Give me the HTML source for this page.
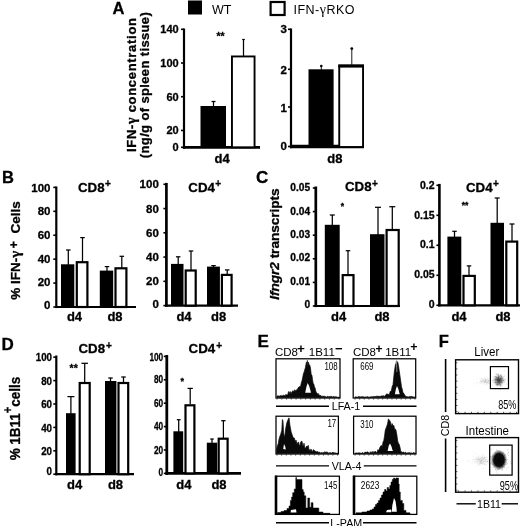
<!DOCTYPE html>
<html><head><meta charset="utf-8"><title>Figure</title>
<style>
html,body{margin:0;padding:0;background:#fff;}
svg{display:block;font-family:"Liberation Sans", sans-serif;fill:#000;}
text[font-weight=bold]{stroke:#000;stroke-width:0.3px;}
text[font-weight=bold] tspan[font-weight=normal]{stroke:none;}
</style></head>
<body>
<svg width="520" height="526" viewBox="0 0 520 526">
<defs><filter id="soft" x="0" y="0" width="520" height="526" filterUnits="userSpaceOnUse" color-interpolation-filters="sRGB"><feGaussianBlur stdDeviation="0.42"/></filter></defs>
<g filter="url(#soft)">
<rect x="-5" y="-5" width="530" height="536" fill="#fff"/>
<text x="112.5" y="14" font-size="16.5" font-weight="bold" text-anchor="start" >A</text>
<rect x="188" y="0.5" width="14" height="14" fill="#000" stroke="none" stroke-width="0"/>
<text x="212" y="14" font-size="12.5" font-weight="normal" text-anchor="start" >WT</text>
<rect x="270.6" y="2" width="14" height="13" fill="#fff" stroke="#000" stroke-width="2.2"/>
<text x="293.5" y="14" font-size="12.5" font-weight="normal" textLength="61" lengthAdjust="spacing">IFN-<tspan font-family='"Liberation Serif", serif' font-size="14">γ</tspan>RKO</text>
<text transform="translate(136,85) rotate(-90)" font-size="13" font-weight="bold" text-anchor="middle" textLength="134" lengthAdjust="spacing">IFN-<tspan font-family='"Liberation Serif", serif' font-weight="bold" font-size="14">γ</tspan> concentration</text>
<text transform="translate(149.3,85.2) rotate(-90)" font-size="13" font-weight="bold" text-anchor="middle" textLength="146" lengthAdjust="spacing">(ng/g of spleen tissue)</text>
<line x1="184" y1="28.5" x2="184" y2="148.65" stroke="#000" stroke-width="2.2"/>
<line x1="182.9" y1="147.3" x2="260" y2="147.3" stroke="#000" stroke-width="2.7"/>
<line x1="181" y1="29.30000000000001" x2="184" y2="29.30000000000001" stroke="#000" stroke-width="1.6"/>
<text x="178.7" y="33.26000000000001" font-size="11" font-weight="bold" text-anchor="end" >140</text>
<line x1="181" y1="63.01428571428572" x2="184" y2="63.01428571428572" stroke="#000" stroke-width="1.6"/>
<text x="178.7" y="66.97428571428571" font-size="11" font-weight="bold" text-anchor="end" >100</text>
<line x1="181" y1="96.72857142857144" x2="184" y2="96.72857142857144" stroke="#000" stroke-width="1.6"/>
<text x="178.7" y="100.68857142857144" font-size="11" font-weight="bold" text-anchor="end" >60</text>
<line x1="181" y1="130.44285714285715" x2="184" y2="130.44285714285715" stroke="#000" stroke-width="1.6"/>
<text x="178.7" y="134.40285714285716" font-size="11" font-weight="bold" text-anchor="end" >20</text>
<line x1="181" y1="147.3" x2="184" y2="147.3" stroke="#000" stroke-width="1.6"/>
<text x="178.7" y="151.26000000000002" font-size="11" font-weight="bold" text-anchor="end" >0</text>
<rect x="200.5" y="106" width="25.5" height="41.30000000000001" fill="#000" stroke="none" stroke-width="0"/>
<line x1="213.5" y1="101.5" x2="213.5" y2="106" stroke="#000" stroke-width="1.25"/>
<line x1="211.5" y1="101.5" x2="215.5" y2="101.5" stroke="#000" stroke-width="1.25"/>
<rect x="231.95" y="56.45" width="22.6" height="90.85000000000001" fill="#fff" stroke="#000" stroke-width="1.9"/>
<line x1="243.5" y1="39.5" x2="243.5" y2="56" stroke="#000" stroke-width="1.25"/>
<line x1="242.2" y1="39.5" x2="244.8" y2="39.5" stroke="#000" stroke-width="1.25"/>
<text x="220.6" y="40" font-size="10.5" font-weight="bold" text-anchor="middle" >**</text>
<text x="222.2" y="163" font-size="13" font-weight="bold" text-anchor="middle" >d4</text>
<line x1="291" y1="28.5" x2="291" y2="148.15" stroke="#000" stroke-width="2.2"/>
<line x1="289.9" y1="146.5" x2="364" y2="146.5" stroke="#000" stroke-width="3.3"/>
<line x1="288" y1="29.3" x2="291" y2="29.3" stroke="#000" stroke-width="1.6"/>
<text x="286.8" y="33.44" font-size="11.5" font-weight="bold" text-anchor="end" >3</text>
<line x1="288" y1="69.3" x2="291" y2="69.3" stroke="#000" stroke-width="1.6"/>
<text x="286.8" y="73.74" font-size="11.5" font-weight="bold" text-anchor="end" >2</text>
<line x1="288" y1="107" x2="291" y2="107" stroke="#000" stroke-width="1.6"/>
<text x="286.8" y="111.94" font-size="11.5" font-weight="bold" text-anchor="end" >1</text>
<line x1="288" y1="146.5" x2="291" y2="146.5" stroke="#000" stroke-width="1.6"/>
<text x="286.8" y="150.04" font-size="11.5" font-weight="bold" text-anchor="end" >0</text>
<rect x="308.5" y="69.3" width="25.100000000000023" height="77.7" fill="#000" stroke="none" stroke-width="0"/>
<line x1="321.3" y1="66" x2="321.3" y2="70" stroke="#000" stroke-width="0.9"/>
<circle cx="321.3" cy="66" r="1.3" fill="#000"/>
<rect x="339.25" y="65.75" width="23.79999999999999" height="81.25" fill="#fff" stroke="#000" stroke-width="1.9"/>
<line x1="338.3" y1="66" x2="364" y2="66" stroke="#000" stroke-width="3.2"/>
<line x1="351.8" y1="48.5" x2="351.8" y2="65" stroke="#000" stroke-width="0.9"/>
<circle cx="351.8" cy="48.6" r="1.4" fill="#000"/>
<text x="334.8" y="163" font-size="13" font-weight="bold" text-anchor="middle" >d8</text>
<text x="2" y="182.5" font-size="16.5" font-weight="bold" text-anchor="start" >B</text>
<text transform="translate(20,299.8) rotate(-90)" font-size="13.5" font-weight="bold" text-anchor="start">% IFN-<tspan font-family='"Liberation Serif", serif' font-size="15">γ</tspan></text>
<text transform="translate(17.6,244.8) rotate(-90)" font-size="12" font-weight="bold" text-anchor="middle">+</text>
<text transform="translate(20,201.2) rotate(-90)" font-size="13.5" font-weight="bold" text-anchor="end">Cells</text>
<line x1="56.3" y1="186.5" x2="56.3" y2="308.1" stroke="#000" stroke-width="2.2"/>
<line x1="55.199999999999996" y1="307" x2="136" y2="307" stroke="#000" stroke-width="2.2"/>
<line x1="53.3" y1="187.4" x2="56.3" y2="187.4" stroke="#000" stroke-width="1.6"/>
<text x="50.5" y="191.54" font-size="11.5" font-weight="bold" text-anchor="end" >100</text>
<line x1="53.3" y1="211.32" x2="56.3" y2="211.32" stroke="#000" stroke-width="1.6"/>
<text x="50.5" y="215.45999999999998" font-size="11.5" font-weight="bold" text-anchor="end" >80</text>
<line x1="53.3" y1="235.24" x2="56.3" y2="235.24" stroke="#000" stroke-width="1.6"/>
<text x="50.5" y="239.38" font-size="11.5" font-weight="bold" text-anchor="end" >60</text>
<line x1="53.3" y1="259.16" x2="56.3" y2="259.16" stroke="#000" stroke-width="1.6"/>
<text x="50.5" y="263.3" font-size="11.5" font-weight="bold" text-anchor="end" >40</text>
<line x1="53.3" y1="283.08" x2="56.3" y2="283.08" stroke="#000" stroke-width="1.6"/>
<text x="50.5" y="286.41999999999996" font-size="11.5" font-weight="bold" text-anchor="end" >20</text>
<line x1="53.3" y1="307" x2="56.3" y2="307" stroke="#000" stroke-width="1.6"/>
<text x="50.5" y="308.64" font-size="11.5" font-weight="bold" text-anchor="end" >0</text>
<rect x="61" y="264.3" width="13.299999999999997" height="42.69999999999999" fill="#000" stroke="none" stroke-width="0"/>
<line x1="68.3" y1="250" x2="68.3" y2="265" stroke="#000" stroke-width="1.25"/>
<line x1="66.05" y1="250" x2="70.55" y2="250" stroke="#000" stroke-width="1.25"/>
<rect x="76.8" y="262.20000000000005" width="10.599999999999998" height="44.799999999999976" fill="#fff" stroke="#000" stroke-width="2.2"/>
<line x1="82.5" y1="237.6" x2="82.5" y2="262" stroke="#000" stroke-width="1.25"/>
<line x1="80.25" y1="237.6" x2="84.75" y2="237.6" stroke="#000" stroke-width="1.25"/>
<rect x="99.8" y="270.6" width="13.400000000000006" height="36.39999999999998" fill="#000" stroke="none" stroke-width="0"/>
<line x1="107" y1="266.6" x2="107" y2="271" stroke="#000" stroke-width="1.25"/>
<line x1="104.75" y1="266.6" x2="109.25" y2="266.6" stroke="#000" stroke-width="1.25"/>
<rect x="115.5" y="268.3" width="10.899999999999995" height="38.70000000000001" fill="#fff" stroke="#000" stroke-width="2.2"/>
<line x1="121.8" y1="256.3" x2="121.8" y2="268" stroke="#000" stroke-width="1.25"/>
<line x1="119.55" y1="256.3" x2="124.05" y2="256.3" stroke="#000" stroke-width="1.25"/>
<text x="78.0" y="191.8" font-size="13.3" font-weight="bold" text-anchor="start">CD8<tspan font-size="10" dy="-4.6" dx="0.3">+</tspan></text>
<text x="74.5" y="321.2" font-size="13" font-weight="bold" text-anchor="middle" >d4</text>
<text x="115" y="321.2" font-size="13" font-weight="bold" text-anchor="middle" >d8</text>
<line x1="166.4" y1="182.9" x2="166.4" y2="306.70000000000005" stroke="#000" stroke-width="2.7"/>
<line x1="165.05" y1="305.6" x2="238" y2="305.6" stroke="#000" stroke-width="2.2"/>
<line x1="163.4" y1="184.3" x2="166.4" y2="184.3" stroke="#000" stroke-width="1.6"/>
<text x="158.8" y="187.94" font-size="11.5" font-weight="bold" text-anchor="end" >100</text>
<line x1="163.4" y1="208.56" x2="166.4" y2="208.56" stroke="#000" stroke-width="1.6"/>
<text x="158.8" y="212.7" font-size="11.5" font-weight="bold" text-anchor="end" >80</text>
<line x1="163.4" y1="232.82000000000002" x2="166.4" y2="232.82000000000002" stroke="#000" stroke-width="1.6"/>
<text x="158.8" y="236.96" font-size="11.5" font-weight="bold" text-anchor="end" >60</text>
<line x1="163.4" y1="257.08000000000004" x2="166.4" y2="257.08000000000004" stroke="#000" stroke-width="1.6"/>
<text x="158.8" y="261.22" font-size="11.5" font-weight="bold" text-anchor="end" >40</text>
<line x1="163.4" y1="281.34000000000003" x2="166.4" y2="281.34000000000003" stroke="#000" stroke-width="1.6"/>
<text x="158.8" y="285.48" font-size="11.5" font-weight="bold" text-anchor="end" >20</text>
<line x1="163.4" y1="305.6" x2="166.4" y2="305.6" stroke="#000" stroke-width="1.6"/>
<text x="158.8" y="308.24" font-size="11.5" font-weight="bold" text-anchor="end" >0</text>
<rect x="171" y="263.9" width="12.5" height="41.700000000000045" fill="#000" stroke="none" stroke-width="0"/>
<line x1="178.2" y1="256.8" x2="178.2" y2="265" stroke="#000" stroke-width="1.25"/>
<line x1="175.95" y1="256.8" x2="180.45" y2="256.8" stroke="#000" stroke-width="1.25"/>
<rect x="185.7" y="270.5" width="10.000000000000018" height="35.100000000000044" fill="#fff" stroke="#000" stroke-width="2.2"/>
<line x1="191" y1="251" x2="191" y2="270" stroke="#000" stroke-width="1.25"/>
<line x1="188.75" y1="251" x2="193.25" y2="251" stroke="#000" stroke-width="1.25"/>
<rect x="207" y="266.6" width="12.900000000000006" height="39.0" fill="#000" stroke="none" stroke-width="0"/>
<line x1="213.5" y1="265.6" x2="213.5" y2="267" stroke="#000" stroke-width="1.25"/>
<line x1="211.25" y1="265.6" x2="215.75" y2="265.6" stroke="#000" stroke-width="1.25"/>
<rect x="221.9" y="274.90000000000003" width="9.699999999999978" height="30.70000000000001" fill="#fff" stroke="#000" stroke-width="2.2"/>
<line x1="227.2" y1="269.9" x2="227.2" y2="274.5" stroke="#000" stroke-width="1.25"/>
<line x1="224.95" y1="269.9" x2="229.45" y2="269.9" stroke="#000" stroke-width="1.25"/>
<text x="188.3" y="191.5" font-size="13.3" font-weight="bold" text-anchor="start">CD4<tspan font-size="10" dy="-4.6" dx="0.3">+</tspan></text>
<text x="184" y="321.2" font-size="13" font-weight="bold" text-anchor="middle" >d4</text>
<text x="218.6" y="321.2" font-size="13" font-weight="bold" text-anchor="middle" >d8</text>
<text x="256" y="183" font-size="17" font-weight="bold" text-anchor="start" >C</text>
<text transform="translate(279.3,244) rotate(-90)" font-size="13.7" font-weight="bold" text-anchor="middle" textLength="111.5" lengthAdjust="spacing"><tspan font-style="italic">Ifngr2</tspan> transcripts</text>
<line x1="315.8" y1="186.5" x2="315.8" y2="307.1" stroke="#000" stroke-width="2.7"/>
<line x1="314.45" y1="306" x2="400" y2="306" stroke="#000" stroke-width="2.2"/>
<line x1="312.8" y1="188.0" x2="315.8" y2="188.0" stroke="#000" stroke-width="1.6"/>
<text x="310.1" y="191.272" font-size="10.2" font-weight="bold" text-anchor="end" >0.05</text>
<line x1="312.8" y1="211.6" x2="315.8" y2="211.6" stroke="#000" stroke-width="1.6"/>
<text x="310.1" y="214.672" font-size="10.2" font-weight="bold" text-anchor="end" >0.04</text>
<line x1="312.8" y1="235.2" x2="315.8" y2="235.2" stroke="#000" stroke-width="1.6"/>
<text x="310.1" y="237.87199999999999" font-size="10.2" font-weight="bold" text-anchor="end" >0.03</text>
<line x1="312.8" y1="258.8" x2="315.8" y2="258.8" stroke="#000" stroke-width="1.6"/>
<text x="310.1" y="261.172" font-size="10.2" font-weight="bold" text-anchor="end" >0.02</text>
<line x1="312.8" y1="282.4" x2="315.8" y2="282.4" stroke="#000" stroke-width="1.6"/>
<text x="310.1" y="285.372" font-size="10.2" font-weight="bold" text-anchor="end" >0.01</text>
<line x1="312.8" y1="306" x2="315.8" y2="306" stroke="#000" stroke-width="1.6"/>
<text x="310.1" y="307.872" font-size="10.2" font-weight="bold" text-anchor="end" >0</text>
<rect x="324.8" y="224.8" width="14.899999999999977" height="81.19999999999999" fill="#000" stroke="none" stroke-width="0"/>
<line x1="332.3" y1="215" x2="332.3" y2="225" stroke="#000" stroke-width="1.25"/>
<line x1="329.8" y1="215" x2="334.8" y2="215" stroke="#000" stroke-width="1.25"/>
<rect x="342.70000000000005" y="275.1" width="10.8" height="30.9" fill="#fff" stroke="#000" stroke-width="2.2"/>
<line x1="348" y1="250.7" x2="348" y2="274" stroke="#000" stroke-width="1.25"/>
<line x1="345.75" y1="250.7" x2="350.25" y2="250.7" stroke="#000" stroke-width="1.25"/>
<rect x="370" y="234.2" width="14.5" height="71.80000000000001" fill="#000" stroke="none" stroke-width="0"/>
<line x1="378" y1="207.3" x2="378" y2="235" stroke="#000" stroke-width="1.25"/>
<line x1="375.0" y1="207.3" x2="381.0" y2="207.3" stroke="#000" stroke-width="1.25"/>
<rect x="386.6" y="230.0" width="12.100000000000012" height="76.0" fill="#fff" stroke="#000" stroke-width="2.2"/>
<line x1="392.3" y1="206.7" x2="392.3" y2="229" stroke="#000" stroke-width="1.25"/>
<line x1="389.3" y1="206.7" x2="395.3" y2="206.7" stroke="#000" stroke-width="1.25"/>
<text x="342.5" y="208.6" font-size="8.5" font-weight="bold" text-anchor="middle" >*</text>
<text x="345.0" y="191.3" font-size="13.3" font-weight="bold" text-anchor="start">CD8<tspan font-size="10" dy="-4.6" dx="0.3">+</tspan></text>
<text x="338.6" y="321.4" font-size="13" font-weight="bold" text-anchor="middle" >d4</text>
<text x="382" y="321.4" font-size="13" font-weight="bold" text-anchor="middle" >d8</text>
<line x1="439.4" y1="183.9" x2="439.4" y2="306.40000000000003" stroke="#000" stroke-width="2.6"/>
<line x1="438.09999999999997" y1="305.3" x2="520" y2="305.3" stroke="#000" stroke-width="2.2"/>
<line x1="436.4" y1="185.3" x2="439.4" y2="185.3" stroke="#000" stroke-width="1.6"/>
<text x="434.59999999999997" y="188.78" font-size="10.5" font-weight="bold" text-anchor="end" >0.2</text>
<line x1="436.4" y1="215.3" x2="439.4" y2="215.3" stroke="#000" stroke-width="1.6"/>
<text x="434.59999999999997" y="218.58" font-size="10.5" font-weight="bold" text-anchor="end" >0.15</text>
<line x1="436.4" y1="245.3" x2="439.4" y2="245.3" stroke="#000" stroke-width="1.6"/>
<text x="434.59999999999997" y="247.88000000000002" font-size="10.5" font-weight="bold" text-anchor="end" >0.1</text>
<line x1="436.4" y1="275.3" x2="439.4" y2="275.3" stroke="#000" stroke-width="1.6"/>
<text x="434.59999999999997" y="278.08" font-size="10.5" font-weight="bold" text-anchor="end" >0.05</text>
<line x1="436.4" y1="305.3" x2="439.4" y2="305.3" stroke="#000" stroke-width="1.6"/>
<text x="434.59999999999997" y="308.28" font-size="10.5" font-weight="bold" text-anchor="end" >0</text>
<rect x="447.4" y="236.6" width="13.900000000000034" height="68.70000000000002" fill="#000" stroke="none" stroke-width="0"/>
<line x1="454.5" y1="231.3" x2="454.5" y2="237" stroke="#000" stroke-width="1.25"/>
<line x1="452.25" y1="231.3" x2="456.75" y2="231.3" stroke="#000" stroke-width="1.25"/>
<rect x="463.5" y="275.90000000000003" width="11.3" height="29.4" fill="#fff" stroke="#000" stroke-width="2.2"/>
<line x1="469" y1="265.9" x2="469" y2="276" stroke="#000" stroke-width="1.25"/>
<line x1="466.75" y1="265.9" x2="471.25" y2="265.9" stroke="#000" stroke-width="1.25"/>
<rect x="490.5" y="222.8" width="13.5" height="82.5" fill="#000" stroke="none" stroke-width="0"/>
<line x1="497.2" y1="198" x2="497.2" y2="224" stroke="#000" stroke-width="1.25"/>
<line x1="494.7" y1="198" x2="499.7" y2="198" stroke="#000" stroke-width="1.25"/>
<rect x="506.3" y="241.6" width="10.899999999999967" height="63.70000000000001" fill="#fff" stroke="#000" stroke-width="2.2"/>
<line x1="512" y1="224" x2="512" y2="241" stroke="#000" stroke-width="1.25"/>
<line x1="509.5" y1="224" x2="514.5" y2="224" stroke="#000" stroke-width="1.25"/>
<text x="465.1" y="208" font-size="8.5" font-weight="bold" text-anchor="middle" >**</text>
<text x="466.0" y="191.8" font-size="13.3" font-weight="bold" text-anchor="start">CD4<tspan font-size="10" dy="-4.6" dx="0.3">+</tspan></text>
<text x="459" y="321.4" font-size="13" font-weight="bold" text-anchor="middle" >d4</text>
<text x="503" y="321.4" font-size="13" font-weight="bold" text-anchor="middle" >d8</text>
<text x="1.5" y="349.8" font-size="17" font-weight="bold" text-anchor="start" >D</text>
<text transform="translate(20.3,418.5) rotate(-90) scale(0.93,1)" font-size="14.5" font-weight="bold" text-anchor="middle">% 1B11<tspan dy="-8" font-size="12">+</tspan><tspan dy="8">cells</tspan></text>
<line x1="56.3" y1="355.5" x2="56.3" y2="475.3" stroke="#000" stroke-width="2.2"/>
<line x1="55.199999999999996" y1="474.2" x2="134" y2="474.2" stroke="#000" stroke-width="2.2"/>
<line x1="53.3" y1="357.2" x2="56.3" y2="357.2" stroke="#000" stroke-width="1.6"/>
<text transform="translate(52.0,361.34) scale(0.85,1)" font-size="11.5" font-weight="bold" text-anchor="end" >100</text>
<line x1="53.3" y1="380.6" x2="56.3" y2="380.6" stroke="#000" stroke-width="1.6"/>
<text transform="translate(52.0,384.74) scale(0.85,1)" font-size="11.5" font-weight="bold" text-anchor="end" >80</text>
<line x1="53.3" y1="404.0" x2="56.3" y2="404.0" stroke="#000" stroke-width="1.6"/>
<text transform="translate(52.0,408.14) scale(0.85,1)" font-size="11.5" font-weight="bold" text-anchor="end" >60</text>
<line x1="53.3" y1="427.4" x2="56.3" y2="427.4" stroke="#000" stroke-width="1.6"/>
<text transform="translate(52.0,431.53999999999996) scale(0.85,1)" font-size="11.5" font-weight="bold" text-anchor="end" >40</text>
<line x1="53.3" y1="450.8" x2="56.3" y2="450.8" stroke="#000" stroke-width="1.6"/>
<text transform="translate(52.0,454.94) scale(0.85,1)" font-size="11.5" font-weight="bold" text-anchor="end" >20</text>
<line x1="53.3" y1="474.2" x2="56.3" y2="474.2" stroke="#000" stroke-width="1.6"/>
<text transform="translate(52.0,475.14) scale(0.85,1)" font-size="11.5" font-weight="bold" text-anchor="end" >0</text>
<rect x="66" y="413.2" width="9.599999999999994" height="61.0" fill="#000" stroke="none" stroke-width="0"/>
<line x1="70.9" y1="396.6" x2="70.9" y2="414" stroke="#000" stroke-width="1.25"/>
<line x1="67.4" y1="396.6" x2="74.4" y2="396.6" stroke="#000" stroke-width="1.25"/>
<rect x="79.69999999999999" y="383.0" width="10.000000000000004" height="91.20000000000002" fill="#fff" stroke="#000" stroke-width="2.2"/>
<line x1="84.7" y1="363.3" x2="84.7" y2="382" stroke="#000" stroke-width="1.25"/>
<line x1="81.45" y1="363.3" x2="87.95" y2="363.3" stroke="#000" stroke-width="1.25"/>
<rect x="105" y="381" width="11.400000000000006" height="93.19999999999999" fill="#000" stroke="none" stroke-width="0"/>
<line x1="110.5" y1="378" x2="110.5" y2="381" stroke="#000" stroke-width="1.25"/>
<line x1="108.25" y1="378" x2="112.75" y2="378" stroke="#000" stroke-width="1.25"/>
<rect x="118.5" y="383.0" width="9.700000000000006" height="91.20000000000002" fill="#fff" stroke="#000" stroke-width="2.2"/>
<line x1="123.5" y1="377" x2="123.5" y2="382" stroke="#000" stroke-width="1.25"/>
<line x1="121.25" y1="377" x2="125.75" y2="377" stroke="#000" stroke-width="1.25"/>
<text x="73.7" y="371.6" font-size="10.5" font-weight="bold" text-anchor="middle" >**</text>
<text x="78.5" y="353.2" font-size="13.3" font-weight="bold" text-anchor="start">CD8<tspan font-size="10" dy="-3.8" dx="1">+</tspan></text>
<text x="74.6" y="488.7" font-size="13" font-weight="bold" text-anchor="middle" >d4</text>
<text x="115.5" y="488.7" font-size="13" font-weight="bold" text-anchor="middle" >d8</text>
<line x1="166.8" y1="355.0" x2="166.8" y2="474.79999999999995" stroke="#000" stroke-width="2.8"/>
<line x1="165.4" y1="473.4" x2="241" y2="473.4" stroke="#000" stroke-width="2.8"/>
<line x1="163.8" y1="356.4" x2="166.8" y2="356.4" stroke="#000" stroke-width="1.6"/>
<text transform="translate(163.20000000000002,360.53999999999996) scale(0.72,1)" font-size="11.5" font-weight="bold" text-anchor="end" >100</text>
<line x1="163.8" y1="379.79999999999995" x2="166.8" y2="379.79999999999995" stroke="#000" stroke-width="1.6"/>
<text transform="translate(163.20000000000002,382.93999999999994) scale(0.72,1)" font-size="11.5" font-weight="bold" text-anchor="end" >80</text>
<line x1="163.8" y1="403.2" x2="166.8" y2="403.2" stroke="#000" stroke-width="1.6"/>
<text transform="translate(163.20000000000002,406.53999999999996) scale(0.72,1)" font-size="11.5" font-weight="bold" text-anchor="end" >60</text>
<line x1="163.8" y1="426.59999999999997" x2="166.8" y2="426.59999999999997" stroke="#000" stroke-width="1.6"/>
<text transform="translate(163.20000000000002,430.23999999999995) scale(0.72,1)" font-size="11.5" font-weight="bold" text-anchor="end" >40</text>
<line x1="163.8" y1="450.0" x2="166.8" y2="450.0" stroke="#000" stroke-width="1.6"/>
<text transform="translate(163.20000000000002,454.14) scale(0.72,1)" font-size="11.5" font-weight="bold" text-anchor="end" >20</text>
<line x1="163.8" y1="473.4" x2="166.8" y2="473.4" stroke="#000" stroke-width="1.6"/>
<text transform="translate(163.20000000000002,476.34) scale(0.72,1)" font-size="11.5" font-weight="bold" text-anchor="end" >0</text>
<rect x="173.4" y="431.3" width="9.799999999999983" height="42.099999999999966" fill="#000" stroke="none" stroke-width="0"/>
<line x1="178.7" y1="419.7" x2="178.7" y2="432" stroke="#000" stroke-width="1.25"/>
<line x1="176.79999999999998" y1="419.7" x2="180.6" y2="419.7" stroke="#000" stroke-width="1.25"/>
<rect x="185.5" y="405.3" width="8.899999999999995" height="68.1" fill="#fff" stroke="#000" stroke-width="2.2"/>
<line x1="190.2" y1="388.4" x2="190.2" y2="404" stroke="#000" stroke-width="1.25"/>
<line x1="187.54999999999998" y1="388.4" x2="192.85" y2="388.4" stroke="#000" stroke-width="1.25"/>
<rect x="206.8" y="442.7" width="10.399999999999977" height="30.69999999999999" fill="#000" stroke="none" stroke-width="0"/>
<line x1="212" y1="439" x2="212" y2="443" stroke="#000" stroke-width="1.25"/>
<line x1="210.25" y1="439" x2="213.75" y2="439" stroke="#000" stroke-width="1.25"/>
<rect x="218.7" y="438.70000000000005" width="8.899999999999995" height="34.69999999999995" fill="#fff" stroke="#000" stroke-width="2.2"/>
<line x1="223.4" y1="420.7" x2="223.4" y2="438" stroke="#000" stroke-width="1.25"/>
<line x1="221.20000000000002" y1="420.7" x2="225.6" y2="420.7" stroke="#000" stroke-width="1.25"/>
<text x="182.3" y="384.3" font-size="9" font-weight="bold" text-anchor="middle" >*</text>
<text x="188.6" y="353.2" font-size="13.3" font-weight="bold" text-anchor="start">CD4<tspan font-size="10" dy="-4.2" dx="1">+</tspan></text>
<text x="183.8" y="488.8" font-size="13" font-weight="bold" text-anchor="middle" >d4</text>
<text x="219" y="488.8" font-size="13" font-weight="bold" text-anchor="middle" >d8</text>
<text x="257.5" y="347.2" font-size="17" font-weight="bold" text-anchor="start" >E</text>
<text x="275" y="355.8" font-size="11.5" font-weight="normal">CD8<tspan dy="-2.5" dx="-1" font-weight="bold" font-size="13.5">+</tspan><tspan dy="2.5" dx="0.7"> 1B11</tspan><tspan dy="-2.6" dx="0.3" font-weight="bold" font-size="13">−</tspan></text>
<text x="353" y="355.6" font-size="11.5" font-weight="normal">CD8<tspan dy="-3" dx="-0.5" font-weight="bold" font-size="12">+</tspan><tspan dy="3" dx="-0.5"> 1B11</tspan><tspan dy="-4.5" dx="-1" font-weight="bold" font-size="12.5">+</tspan></text>
<rect x="276" y="358.8" width="64.0" height="39.19999999999999" fill="none" stroke="#000" stroke-width="1.25"/>
<rect x="353.2" y="358.8" width="62.5" height="39.19999999999999" fill="none" stroke="#000" stroke-width="1.25"/>
<line x1="277.0" y1="398.3" x2="277.0" y2="399.5" stroke="#222" stroke-width="0.9"/>
<line x1="281.7692307692308" y1="398.3" x2="281.7692307692308" y2="399.5" stroke="#222" stroke-width="0.9"/>
<line x1="286.53846153846155" y1="398.3" x2="286.53846153846155" y2="399.5" stroke="#222" stroke-width="0.9"/>
<line x1="291.3076923076923" y1="398.3" x2="291.3076923076923" y2="399.5" stroke="#222" stroke-width="0.9"/>
<line x1="296.0769230769231" y1="398.3" x2="296.0769230769231" y2="399.5" stroke="#222" stroke-width="0.9"/>
<line x1="300.84615384615387" y1="398.3" x2="300.84615384615387" y2="399.5" stroke="#222" stroke-width="0.9"/>
<line x1="305.61538461538464" y1="398.3" x2="305.61538461538464" y2="399.5" stroke="#222" stroke-width="0.9"/>
<line x1="310.38461538461536" y1="398.3" x2="310.38461538461536" y2="399.5" stroke="#222" stroke-width="0.9"/>
<line x1="315.15384615384613" y1="398.3" x2="315.15384615384613" y2="399.5" stroke="#222" stroke-width="0.9"/>
<line x1="319.9230769230769" y1="398.3" x2="319.9230769230769" y2="399.5" stroke="#222" stroke-width="0.9"/>
<line x1="324.6923076923077" y1="398.3" x2="324.6923076923077" y2="399.5" stroke="#222" stroke-width="0.9"/>
<line x1="329.46153846153845" y1="398.3" x2="329.46153846153845" y2="399.5" stroke="#222" stroke-width="0.9"/>
<line x1="334.2307692307692" y1="398.3" x2="334.2307692307692" y2="399.5" stroke="#222" stroke-width="0.9"/>
<line x1="339.0" y1="398.3" x2="339.0" y2="399.5" stroke="#222" stroke-width="0.9"/>
<line x1="355.0" y1="398.3" x2="355.0" y2="399.5" stroke="#222" stroke-width="0.9"/>
<line x1="359.61538461538464" y1="398.3" x2="359.61538461538464" y2="399.5" stroke="#222" stroke-width="0.9"/>
<line x1="364.2307692307692" y1="398.3" x2="364.2307692307692" y2="399.5" stroke="#222" stroke-width="0.9"/>
<line x1="368.84615384615387" y1="398.3" x2="368.84615384615387" y2="399.5" stroke="#222" stroke-width="0.9"/>
<line x1="373.46153846153845" y1="398.3" x2="373.46153846153845" y2="399.5" stroke="#222" stroke-width="0.9"/>
<line x1="378.0769230769231" y1="398.3" x2="378.0769230769231" y2="399.5" stroke="#222" stroke-width="0.9"/>
<line x1="382.6923076923077" y1="398.3" x2="382.6923076923077" y2="399.5" stroke="#222" stroke-width="0.9"/>
<line x1="387.3076923076923" y1="398.3" x2="387.3076923076923" y2="399.5" stroke="#222" stroke-width="0.9"/>
<line x1="391.9230769230769" y1="398.3" x2="391.9230769230769" y2="399.5" stroke="#222" stroke-width="0.9"/>
<line x1="396.53846153846155" y1="398.3" x2="396.53846153846155" y2="399.5" stroke="#222" stroke-width="0.9"/>
<line x1="401.15384615384613" y1="398.3" x2="401.15384615384613" y2="399.5" stroke="#222" stroke-width="0.9"/>
<line x1="405.7692307692308" y1="398.3" x2="405.7692307692308" y2="399.5" stroke="#222" stroke-width="0.9"/>
<line x1="410.38461538461536" y1="398.3" x2="410.38461538461536" y2="399.5" stroke="#222" stroke-width="0.9"/>
<line x1="415.0" y1="398.3" x2="415.0" y2="399.5" stroke="#222" stroke-width="0.9"/>
<path d="M277,397.4 L277.0,396.1 L277.6,395.8 L278.2,396.5 L278.8,395.6 L279.4,396.2 L280.0,396.0 L280.6,395.5 L281.2,396.1 L281.8,395.4 L282.4,395.9 L283.0,395.3 L283.7,395.2 L284.3,395.5 L285.0,396.1 L285.7,394.6 L286.3,394.6 L287.0,395.3 L287.8,394.6 L288.5,391.7 L289.1,391.7 L289.8,394.0 L290.4,391.6 L291.0,394.5 L291.6,392.3 L292.2,391.4 L292.8,390.8 L293.4,390.9 L294.0,392.0 L294.7,389.7 L295.3,390.8 L296.0,390.7 L296.7,389.6 L297.3,389.9 L298.0,388.1 L298.7,387.1 L299.4,386.6 L300.1,387.1 L300.8,385.3 L301.4,382.4 L302.0,380.8 L302.6,377.9 L303.4,373.8 L304.2,371.7 L305.4,367.6 L306.4,362.2 L307.3,361.5 L308.3,362.1 L309.1,364.5 L309.8,365.3 L310.5,368.1 L311.2,374.5 L311.9,375.1 L312.5,379.4 L313.2,383.8 L313.8,383.9 L314.4,387.0 L315.0,387.5 L315.7,390.8 L316.3,392.4 L317.0,393.0 L317.6,394.5 L318.2,393.4 L318.9,394.9 L319.5,395.2 L320.2,395.4 L320.8,395.4 L321.5,396.2 L322.2,396.6 L322.8,396.0 L323.5,396.5 L324.1,395.8 L324.8,396.7 L325.4,396.6 L326.1,397.1 L326.8,397.0 L327.4,396.3 L328.1,396.5 L328.7,396.9 L329.4,396.2 L330.0,396.8 L330.6,396.4 L331.3,396.4 L331.9,396.4 L332.5,397.1 L333.2,396.5 L333.8,396.6 L334.4,396.8 L335.1,397.3 L335.7,396.5 L336.3,396.9 L337.0,397.0 L337.6,397.4 L338.2,397.3 L338.9,397.4 L339.5,397 L339.5,397.4 Z" fill="#0a0a0a" stroke="#0a0a0a" stroke-width="0.7" stroke-linejoin="round"/>
<path d="M305.2,392.8 L306.4,387 L307.6,383 L309,385.5 L310.2,389.5 L311,392.8 Z" fill="#fff"/>
<line x1="307.4" y1="360" x2="307.4" y2="366" stroke="#333" stroke-width="0.7"/>
<text transform="translate(337.6,370.3) scale(0.72,1)" font-size="11" font-weight="normal" text-anchor="end" >108</text>
<path d="M355,397.4 L355.0,396.8 L355.6,396.9 L356.2,396.9 L356.8,397.3 L357.4,397.3 L358.0,396.7 L358.6,396.7 L359.2,396.7 L359.8,396.7 L360.5,396.9 L361.1,397.0 L361.7,396.7 L362.3,396.5 L362.9,396.9 L363.5,396.8 L364.1,397.0 L364.7,397.3 L365.3,397.0 L365.9,396.9 L366.5,397.0 L367.1,397.0 L367.7,396.5 L368.3,397.2 L368.9,397.1 L369.5,397.2 L370.2,397.1 L370.8,396.8 L371.4,396.8 L372.0,396.5 L372.6,396.9 L373.2,396.5 L373.8,396.5 L374.4,396.6 L375.0,396.5 L375.6,396.6 L376.2,396.3 L376.8,396.2 L377.4,396.3 L378.0,396.2 L378.6,396.3 L379.2,396.0 L379.8,396.8 L380.4,396.4 L381.0,395.9 L381.6,395.9 L382.2,396.0 L382.8,396.0 L383.4,395.6 L384.0,396.4 L384.6,396.3 L385.2,395.4 L385.8,395.1 L386.4,394.1 L387.0,393.8 L387.7,394.3 L388.5,394.2 L389.2,395.2 L389.8,392.7 L390.4,391.1 L391.0,392.1 L391.7,388.9 L392.3,385.9 L393.0,384.7 L394.2,372.9 L395.4,364.7 L396.0,363.4 L396.6,360.9 L397.8,362.5 L398.5,365.8 L399.2,370.5 L400.3,378.2 L401.5,386.7 L402.2,389.1 L403.0,392.7 L403.8,393.3 L404.6,395.0 L405.3,396.0 L406.0,396.5 L406.6,396.5 L407.3,396.7 L408.0,396.9 L408.6,396.9 L409.2,396.4 L409.9,396.7 L410.5,396.6 L411.1,396.4 L411.8,396.4 L412.4,396.7 L413.0,396.7 L413.6,397.1 L414.2,397.3 L414.9,396.9 L415.5,397 L415.5,397.4 Z" fill="#0a0a0a" stroke="#0a0a0a" stroke-width="0.7" stroke-linejoin="round"/>
<path d="M394.9,394.2 L395.9,389 L397,386 L398.4,389 L399.7,394.2 Z" fill="#fff"/>
<line x1="396.4" y1="360.5" x2="396.9" y2="372" stroke="#999" stroke-width="0.8"/>
<text transform="translate(360.3,370.3) scale(0.72,1)" font-size="11" font-weight="normal" text-anchor="start" >669</text>
<line x1="276" y1="406.3" x2="329" y2="406.3" stroke="#000" stroke-width="1.4"/>
<line x1="363" y1="406.3" x2="416.5" y2="406.3" stroke="#000" stroke-width="1.4"/>
<text transform="translate(346,410.4) scale(0.94,1)" font-size="11.4" font-weight="normal" text-anchor="middle" >LFA-1</text>
<rect x="276" y="416.2" width="62.39999999999998" height="37.80000000000001" fill="none" stroke="#000" stroke-width="1.25"/>
<rect x="353.6" y="416.2" width="62.39999999999998" height="37.80000000000001" fill="none" stroke="#000" stroke-width="1.25"/>
<line x1="277.0" y1="454.3" x2="277.0" y2="455.5" stroke="#222" stroke-width="0.9"/>
<line x1="281.65384615384613" y1="454.3" x2="281.65384615384613" y2="455.5" stroke="#222" stroke-width="0.9"/>
<line x1="286.3076923076923" y1="454.3" x2="286.3076923076923" y2="455.5" stroke="#222" stroke-width="0.9"/>
<line x1="290.96153846153845" y1="454.3" x2="290.96153846153845" y2="455.5" stroke="#222" stroke-width="0.9"/>
<line x1="295.61538461538464" y1="454.3" x2="295.61538461538464" y2="455.5" stroke="#222" stroke-width="0.9"/>
<line x1="300.2692307692308" y1="454.3" x2="300.2692307692308" y2="455.5" stroke="#222" stroke-width="0.9"/>
<line x1="304.9230769230769" y1="454.3" x2="304.9230769230769" y2="455.5" stroke="#222" stroke-width="0.9"/>
<line x1="309.5769230769231" y1="454.3" x2="309.5769230769231" y2="455.5" stroke="#222" stroke-width="0.9"/>
<line x1="314.2307692307692" y1="454.3" x2="314.2307692307692" y2="455.5" stroke="#222" stroke-width="0.9"/>
<line x1="318.88461538461536" y1="454.3" x2="318.88461538461536" y2="455.5" stroke="#222" stroke-width="0.9"/>
<line x1="323.53846153846155" y1="454.3" x2="323.53846153846155" y2="455.5" stroke="#222" stroke-width="0.9"/>
<line x1="328.1923076923077" y1="454.3" x2="328.1923076923077" y2="455.5" stroke="#222" stroke-width="0.9"/>
<line x1="332.84615384615387" y1="454.3" x2="332.84615384615387" y2="455.5" stroke="#222" stroke-width="0.9"/>
<line x1="337.5" y1="454.3" x2="337.5" y2="455.5" stroke="#222" stroke-width="0.9"/>
<line x1="355.0" y1="454.3" x2="355.0" y2="455.5" stroke="#222" stroke-width="0.9"/>
<line x1="359.61538461538464" y1="454.3" x2="359.61538461538464" y2="455.5" stroke="#222" stroke-width="0.9"/>
<line x1="364.2307692307692" y1="454.3" x2="364.2307692307692" y2="455.5" stroke="#222" stroke-width="0.9"/>
<line x1="368.84615384615387" y1="454.3" x2="368.84615384615387" y2="455.5" stroke="#222" stroke-width="0.9"/>
<line x1="373.46153846153845" y1="454.3" x2="373.46153846153845" y2="455.5" stroke="#222" stroke-width="0.9"/>
<line x1="378.0769230769231" y1="454.3" x2="378.0769230769231" y2="455.5" stroke="#222" stroke-width="0.9"/>
<line x1="382.6923076923077" y1="454.3" x2="382.6923076923077" y2="455.5" stroke="#222" stroke-width="0.9"/>
<line x1="387.3076923076923" y1="454.3" x2="387.3076923076923" y2="455.5" stroke="#222" stroke-width="0.9"/>
<line x1="391.9230769230769" y1="454.3" x2="391.9230769230769" y2="455.5" stroke="#222" stroke-width="0.9"/>
<line x1="396.53846153846155" y1="454.3" x2="396.53846153846155" y2="455.5" stroke="#222" stroke-width="0.9"/>
<line x1="401.15384615384613" y1="454.3" x2="401.15384615384613" y2="455.5" stroke="#222" stroke-width="0.9"/>
<line x1="405.7692307692308" y1="454.3" x2="405.7692307692308" y2="455.5" stroke="#222" stroke-width="0.9"/>
<line x1="410.38461538461536" y1="454.3" x2="410.38461538461536" y2="455.5" stroke="#222" stroke-width="0.9"/>
<line x1="415.0" y1="454.3" x2="415.0" y2="455.5" stroke="#222" stroke-width="0.9"/>
<path d="M276.6,453.4 L276.6,449.3 L277.5,445.5 L278.2,443.9 L279.0,439.3 L279.8,436.5 L280.6,434.6 L281.8,430.4 L282.4,419.5 L283.0,421.2 L283.6,433.1 L284.6,437.8 L285.6,428.9 L286.8,422.8 L288.0,419.8 L289.0,417.8 L290.0,425.8 L291.2,432.1 L292.4,435.5 L293.1,437.3 L293.8,437.9 L294.5,438.3 L295.2,442.0 L296.0,440.1 L296.7,443.1 L297.3,444.5 L298.0,442.0 L298.7,442.5 L299.3,445.8 L300.0,445.2 L300.7,442.0 L301.3,441.4 L302.0,441.2 L302.7,445.8 L303.3,445.9 L304.0,443.2 L304.7,447.2 L305.3,448.5 L306.0,447.3 L306.6,446.1 L307.2,447.6 L307.8,445.8 L308.4,445.6 L309.0,450.9 L309.6,449.6 L310.2,449.2 L310.8,451.5 L311.4,449.4 L312.0,451.6 L312.7,451.6 L313.3,449.6 L314.0,450.2 L314.7,450.7 L315.3,450.9 L316.0,452.2 L316.6,451.5 L317.2,451.9 L317.8,451.3 L318.4,453.2 L319.0,452.0 L319.6,452.3 L320.2,452.6 L320.8,453.3 L321.4,452.4 L322.0,453.4 L322.6,452.6 L323.2,452.7 L323.8,452.7 L324.5,451.7 L325.1,452.6 L325.7,452.1 L326.3,451.8 L326.9,453.3 L327.5,452.1 L328.2,452.7 L328.8,453.2 L329.4,452.9 L330.0,452.5 L330.6,452.8 L331.2,452.9 L331.8,453.4 L332.4,452.2 L333.0,453.0 L333.6,452.5 L334.2,452.5 L334.8,453.4 L335.4,453.0 L336.0,453.1 L336.6,453.4 L337.2,453.4 L337.8,453 L337.8,453.4 Z" fill="#0a0a0a" stroke="#0a0a0a" stroke-width="0.7" stroke-linejoin="round"/>
<path d="M283.2,449 L284,444 L285.2,446.5 L285.8,449.5 Z" fill="#fff"/>
<text transform="translate(336.2,427.3) scale(0.72,1)" font-size="11" font-weight="normal" text-anchor="end" >17</text>
<path d="M355,453.4 L355.0,452.9 L355.6,453.2 L356.2,453.0 L356.9,453.0 L357.5,453.2 L358.1,452.8 L358.7,452.9 L359.3,452.8 L360.0,453.4 L360.6,453.2 L361.2,453.4 L361.8,453.4 L362.4,452.4 L363.0,452.9 L363.7,453.4 L364.3,453.3 L364.9,452.1 L365.5,452.0 L366.1,452.6 L366.8,451.9 L367.4,452.1 L368.0,451.8 L368.6,452.9 L369.2,453.0 L369.8,453.2 L370.4,451.7 L371.0,452.7 L371.6,452.6 L372.2,451.4 L372.8,453.0 L373.4,453.1 L374.0,451.3 L374.6,453.0 L375.2,451.5 L375.9,451.6 L376.5,452.8 L377.2,452.2 L377.8,449.7 L378.5,450.3 L379.2,449.3 L380.0,447.2 L380.8,445.8 L381.5,445.6 L382.2,446.6 L383.0,442.2 L383.8,440.4 L384.6,435.5 L385.3,430.1 L386.0,428.2 L387.0,425.6 L387.7,423.1 L388.4,418.9 L389.5,420.3 L390.5,421.9 L391.5,426.3 L392.2,423.6 L393.0,425.9 L393.8,425.3 L394.6,429.3 L395.3,428.9 L396.0,430.2 L396.9,435.1 L397.7,441.0 L398.4,443.5 L399.0,443.8 L400.0,447.3 L400.8,451.8 L401.5,451.7 L402.2,452.5 L403.0,452.0 L403.6,452.0 L404.2,453.1 L404.9,452.7 L405.5,452.1 L406.1,453.4 L406.8,453.1 L407.4,453.4 L408.0,452.4 L408.6,453.4 L409.2,452.4 L409.9,453.4 L410.5,453.0 L411.1,452.8 L411.8,453.2 L412.4,453.4 L413.0,452.8 L413.6,452.6 L414.2,453.2 L414.9,452.8 L415.5,453.2 L415.5,453.4 Z" fill="#0a0a0a" stroke="#0a0a0a" stroke-width="0.7" stroke-linejoin="round"/>
<path d="M387.6,451 L388.8,445.5 L390,443.5 L391.5,446.5 L392.3,449.5 L393,451 Z" fill="#fff"/>
<text transform="translate(360.3,427.6) scale(0.72,1)" font-size="11" font-weight="normal" text-anchor="start" >310</text>
<line x1="276" y1="465.9" x2="329" y2="465.9" stroke="#000" stroke-width="1.4"/>
<line x1="363.8" y1="465.9" x2="416.5" y2="465.9" stroke="#000" stroke-width="1.4"/>
<text transform="translate(346.5,470) scale(0.94,1)" font-size="11.4" font-weight="normal" text-anchor="middle" >VLA-4</text>
<rect x="276" y="476.2" width="63.39999999999998" height="38.19999999999999" fill="none" stroke="#000" stroke-width="1.25"/>
<line x1="276" y1="475.575" x2="276" y2="515.025" stroke="#000" stroke-width="2.6"/>
<rect x="354" y="476.2" width="62.80000000000001" height="38.19999999999999" fill="none" stroke="#000" stroke-width="1.25"/>
<line x1="354" y1="475.575" x2="354" y2="515.025" stroke="#000" stroke-width="2.6"/>
<path d="M277.5,513.9 L277.5,512.5 L281,512.5 L281,511.5 L284,511.5 L284,510.5 L287,510.5 L287,508.5 L289,508.5 L289,506 L290.4,506 L290.4,500.4 L291.6,500.4 L291.6,497 L292.7,497 L292.7,492.7 L294.3,492.7 L294.3,489 L295.8,489 L295.8,477.5 L296.5,477.5 L296.5,479.6 L302,479.6 L302,489.6 L303.2,489.6 L303.2,492 L304.2,492 L304.2,495.8 L305.8,495.8 L305.8,508 L307.8,508 L307.8,498 L309.6,498 L309.6,507.3 L311.2,507.3 L311.2,502.7 L313,502.7 L313,508 L318.8,508 L318.8,512 L323,512 L323,513.3 L330,513.3 L330,513.9 Z" fill="#000" stroke="#000" stroke-width="0.5"/>
<path d="M290.5,512.5 L291,510 L296,509.2 L296.5,512.5 Z" fill="#fff"/>
<text transform="translate(337.3,488.6) scale(0.72,1)" font-size="11" font-weight="normal" text-anchor="end" >145</text>
<path d="M356,513.9 L356,512.8 L362,512.8 L362,512 L367,512 L367,511 L370,511 L370,510 L372.3,510 L372.3,509 L374,509 L374,507 L375.5,507 L375.5,504.5 L377,504.5 L377,503 L378.5,503 L378.5,500.5 L380,500.5 L380,498 L381.5,498 L381.5,495 L383,495 L383,492 L384.6,492 L384.6,489.5 L386,489.5 L386,491 L387.2,491 L387.2,487.5 L388.6,487.5 L388.6,489 L389.8,489 L389.8,485.5 L391,485.5 L391,482 L392.3,482 L392.3,479.5 L393.4,479.5 L393.4,478.2 L395,478.2 L395,479 L396,479 L396,478 L398.5,478 L398.5,484 L399.2,484 L399.2,492 L400.3,492 L400.3,500.4 L402.3,500.4 L402.3,503.5 L403.8,503.5 L403.8,510.4 L406,510.4 L406,512.8 L410,512.8 L410,513.9 Z" fill="#000" stroke="#000" stroke-width="0.5"/>
<path d="M391.6,511.8 L392.4,505 L394,498 L395.5,501 L396.4,507 L396.8,511.8 Z" fill="#fff"/>
<path d="M386,512.2 L387,510 L391,509.6 L391.2,512.2 Z" fill="#fff"/>
<text transform="translate(360.8,488.8) scale(0.76,1)" font-size="11" font-weight="normal" text-anchor="start" >2623</text>
<line x1="276" y1="522.7" x2="329" y2="522.7" stroke="#000" stroke-width="1.4"/>
<line x1="363" y1="522.7" x2="416.5" y2="522.7" stroke="#000" stroke-width="1.4"/>
<text transform="translate(346.3,526.6) scale(0.94,1)" font-size="11.4" font-weight="normal" text-anchor="middle" >L-PAM</text>
<text x="438.8" y="347" font-size="16.5" font-weight="bold" text-anchor="start" >F</text>
<text transform="translate(486.8,356) scale(0.92,1)" font-size="12.5" font-weight="normal" text-anchor="middle" >Liver</text>
<text transform="translate(487.3,434.8) scale(0.92,1)" font-size="12.5" font-weight="normal" text-anchor="middle" >Intestine</text>
<defs>
<radialGradient id="g1"><stop offset="0" stop-color="#333" stop-opacity="0.9"/><stop offset="0.4" stop-color="#555" stop-opacity="0.6"/><stop offset="0.75" stop-color="#888" stop-opacity="0.2"/><stop offset="1" stop-color="#999" stop-opacity="0"/></radialGradient>
<radialGradient id="g2"><stop offset="0" stop-color="#000" stop-opacity="1"/><stop offset="0.6" stop-color="#0a0a0a" stop-opacity="1"/><stop offset="0.8" stop-color="#444" stop-opacity="0.55"/><stop offset="1" stop-color="#999" stop-opacity="0"/></radialGradient>
<radialGradient id="g3"><stop offset="0" stop-color="#aaa" stop-opacity="0.4"/><stop offset="1" stop-color="#ccc" stop-opacity="0"/></radialGradient>
</defs>
<rect x="455.6" y="359.8" width="62.89999999999998" height="53.80000000000001" fill="none" stroke="#000" stroke-width="1.4"/>
<line x1="456.1" y1="362.8" x2="457.40000000000003" y2="362.8" stroke="#222" stroke-width="0.8"/>
<line x1="456.1" y1="368.90000000000003" x2="457.40000000000003" y2="368.90000000000003" stroke="#222" stroke-width="0.8"/>
<line x1="456.1" y1="375.0" x2="457.40000000000003" y2="375.0" stroke="#222" stroke-width="0.8"/>
<line x1="456.1" y1="381.1" x2="457.40000000000003" y2="381.1" stroke="#222" stroke-width="0.8"/>
<line x1="456.1" y1="387.20000000000005" x2="457.40000000000003" y2="387.20000000000005" stroke="#222" stroke-width="0.8"/>
<line x1="456.1" y1="393.3" x2="457.40000000000003" y2="393.3" stroke="#222" stroke-width="0.8"/>
<line x1="456.1" y1="399.40000000000003" x2="457.40000000000003" y2="399.40000000000003" stroke="#222" stroke-width="0.8"/>
<line x1="456.1" y1="405.5" x2="457.40000000000003" y2="405.5" stroke="#222" stroke-width="0.8"/>
<line x1="456.1" y1="411.6" x2="457.40000000000003" y2="411.6" stroke="#222" stroke-width="0.8"/>
<line x1="458.6" y1="411.8" x2="458.6" y2="413.1" stroke="#222" stroke-width="0.8"/>
<line x1="465.03333333333336" y1="411.8" x2="465.03333333333336" y2="413.1" stroke="#222" stroke-width="0.8"/>
<line x1="471.4666666666667" y1="411.8" x2="471.4666666666667" y2="413.1" stroke="#222" stroke-width="0.8"/>
<line x1="477.90000000000003" y1="411.8" x2="477.90000000000003" y2="413.1" stroke="#222" stroke-width="0.8"/>
<line x1="484.33333333333337" y1="411.8" x2="484.33333333333337" y2="413.1" stroke="#222" stroke-width="0.8"/>
<line x1="490.76666666666665" y1="411.8" x2="490.76666666666665" y2="413.1" stroke="#222" stroke-width="0.8"/>
<line x1="497.2" y1="411.8" x2="497.2" y2="413.1" stroke="#222" stroke-width="0.8"/>
<line x1="503.6333333333333" y1="411.8" x2="503.6333333333333" y2="413.1" stroke="#222" stroke-width="0.8"/>
<line x1="510.06666666666666" y1="411.8" x2="510.06666666666666" y2="413.1" stroke="#222" stroke-width="0.8"/>
<line x1="516.5" y1="411.8" x2="516.5" y2="413.1" stroke="#222" stroke-width="0.8"/>
<ellipse cx="485" cy="381" rx="7" ry="4.5" fill="url(#g3)"/>
<path d="M481.3,381.8h0.6v0.6h-0.6zM488.0,380.0h0.6v0.6h-0.6zM481.0,380.9h0.6v0.6h-0.6zM486.4,383.2h0.6v0.6h-0.6zM481.4,378.4h0.6v0.6h-0.6zM487.1,381.9h0.6v0.6h-0.6zM489.6,383.0h0.6v0.6h-0.6zM484.7,380.5h0.6v0.6h-0.6zM492.7,380.4h0.6v0.6h-0.6zM482.6,378.7h0.6v0.6h-0.6zM485.3,381.3h0.6v0.6h-0.6zM484.0,380.9h0.6v0.6h-0.6zM485.8,382.4h0.6v0.6h-0.6zM488.3,381.4h0.6v0.6h-0.6zM479.6,382.4h0.6v0.6h-0.6zM480.7,380.7h0.6v0.6h-0.6zM480.6,381.0h0.6v0.6h-0.6zM482.7,381.4h0.6v0.6h-0.6zM494.9,380.9h0.6v0.6h-0.6zM487.5,378.4h0.6v0.6h-0.6zM484.1,382.3h0.6v0.6h-0.6zM484.7,381.7h0.6v0.6h-0.6zM485.3,379.0h0.6v0.6h-0.6zM486.7,379.4h0.6v0.6h-0.6zM490.6,380.0h0.6v0.6h-0.6zM487.1,381.0h0.6v0.6h-0.6zM487.9,379.8h0.6v0.6h-0.6zM488.0,380.8h0.6v0.6h-0.6zM488.8,382.2h0.6v0.6h-0.6zM485.4,379.4h0.6v0.6h-0.6zM487.3,381.9h0.6v0.6h-0.6zM489.9,380.2h0.6v0.6h-0.6zM486.7,382.0h0.6v0.6h-0.6zM485.8,381.4h0.6v0.6h-0.6zM485.5,379.8h0.6v0.6h-0.6zM482.0,380.2h0.6v0.6h-0.6zM486.8,384.0h0.6v0.6h-0.6zM487.9,383.1h0.6v0.6h-0.6zM487.3,382.4h0.6v0.6h-0.6zM485.6,382.5h0.6v0.6h-0.6z" fill="#777" fill-opacity="0.45"/>
<path d="M483.1,380.2h0.6v0.6h-0.6zM473.2,385.9h0.6v0.6h-0.6zM477.0,383.4h0.6v0.6h-0.6zM479.5,378.2h0.6v0.6h-0.6zM485.7,385.4h0.6v0.6h-0.6zM476.7,382.9h0.6v0.6h-0.6zM476.5,378.8h0.6v0.6h-0.6zM475.6,381.9h0.6v0.6h-0.6zM480.5,382.8h0.6v0.6h-0.6zM476.2,384.4h0.6v0.6h-0.6zM473.0,383.0h0.6v0.6h-0.6zM480.4,380.3h0.6v0.6h-0.6zM468.8,378.7h0.6v0.6h-0.6zM476.9,382.3h0.6v0.6h-0.6z" fill="#999" fill-opacity="0.3"/>
<ellipse cx="498.8" cy="380.3" rx="6.8" ry="7.2" fill="url(#g1)"/>
<path d="M502.2,377.9h0.6v0.6h-0.6zM498.8,381.9h0.6v0.6h-0.6zM498.5,374.6h0.6v0.6h-0.6zM500.6,385.8h0.6v0.6h-0.6zM501.0,378.1h0.6v0.6h-0.6zM497.9,380.8h0.6v0.6h-0.6zM504.3,381.8h0.6v0.6h-0.6zM499.1,384.0h0.6v0.6h-0.6zM498.6,384.8h0.6v0.6h-0.6zM497.3,379.2h0.6v0.6h-0.6zM500.4,383.7h0.6v0.6h-0.6zM500.2,381.0h0.6v0.6h-0.6zM494.8,378.6h0.6v0.6h-0.6zM497.5,379.0h0.6v0.6h-0.6zM500.1,379.5h0.6v0.6h-0.6zM500.5,380.5h0.6v0.6h-0.6zM498.1,380.6h0.6v0.6h-0.6zM499.7,382.4h0.6v0.6h-0.6zM497.7,379.7h0.6v0.6h-0.6zM495.8,384.1h0.6v0.6h-0.6zM502.0,379.9h0.6v0.6h-0.6zM497.7,377.3h0.6v0.6h-0.6zM499.2,380.8h0.6v0.6h-0.6zM503.6,380.9h0.6v0.6h-0.6zM497.1,374.4h0.6v0.6h-0.6zM501.9,380.8h0.6v0.6h-0.6zM495.3,380.7h0.6v0.6h-0.6zM495.3,388.7h0.6v0.6h-0.6zM501.3,381.7h0.6v0.6h-0.6zM498.4,375.2h0.6v0.6h-0.6zM498.5,376.6h0.6v0.6h-0.6zM500.1,375.2h0.6v0.6h-0.6zM496.8,383.2h0.6v0.6h-0.6zM502.4,377.5h0.6v0.6h-0.6zM495.4,382.4h0.6v0.6h-0.6zM500.7,377.9h0.6v0.6h-0.6zM497.3,378.6h0.6v0.6h-0.6zM496.2,378.7h0.6v0.6h-0.6zM501.6,382.0h0.6v0.6h-0.6zM503.3,380.1h0.6v0.6h-0.6zM498.5,377.9h0.6v0.6h-0.6zM498.5,377.1h0.6v0.6h-0.6zM494.9,382.0h0.6v0.6h-0.6zM502.0,382.3h0.6v0.6h-0.6zM501.7,380.9h0.6v0.6h-0.6zM497.2,380.5h0.6v0.6h-0.6zM498.0,377.6h0.6v0.6h-0.6zM495.1,376.7h0.6v0.6h-0.6zM498.8,380.7h0.6v0.6h-0.6zM497.8,383.7h0.6v0.6h-0.6zM499.2,381.7h0.6v0.6h-0.6zM501.5,378.3h0.6v0.6h-0.6zM494.5,382.1h0.6v0.6h-0.6zM497.3,383.4h0.6v0.6h-0.6zM499.5,382.7h0.6v0.6h-0.6zM500.5,375.3h0.6v0.6h-0.6zM500.4,378.7h0.6v0.6h-0.6zM497.1,379.3h0.6v0.6h-0.6zM500.5,382.4h0.6v0.6h-0.6zM501.0,376.3h0.6v0.6h-0.6zM497.5,374.6h0.6v0.6h-0.6zM498.6,381.7h0.6v0.6h-0.6zM497.1,380.9h0.6v0.6h-0.6zM499.3,382.7h0.6v0.6h-0.6zM497.0,378.3h0.6v0.6h-0.6zM497.1,384.5h0.6v0.6h-0.6zM501.2,380.0h0.6v0.6h-0.6zM499.3,380.6h0.6v0.6h-0.6zM499.2,379.8h0.6v0.6h-0.6zM498.1,377.3h0.6v0.6h-0.6zM497.4,384.3h0.6v0.6h-0.6zM500.0,380.5h0.6v0.6h-0.6zM498.3,380.5h0.6v0.6h-0.6zM499.6,378.7h0.6v0.6h-0.6zM499.2,380.9h0.6v0.6h-0.6zM497.2,378.4h0.6v0.6h-0.6zM496.6,377.7h0.6v0.6h-0.6zM500.8,374.6h0.6v0.6h-0.6zM498.2,378.8h0.6v0.6h-0.6zM497.4,380.5h0.6v0.6h-0.6zM501.3,380.5h0.6v0.6h-0.6zM498.5,378.8h0.6v0.6h-0.6zM498.5,382.5h0.6v0.6h-0.6zM497.9,377.5h0.6v0.6h-0.6zM496.0,377.6h0.6v0.6h-0.6zM495.7,382.9h0.6v0.6h-0.6zM499.6,379.7h0.6v0.6h-0.6zM502.0,378.7h0.6v0.6h-0.6zM500.5,382.2h0.6v0.6h-0.6zM495.4,376.6h0.6v0.6h-0.6zM496.8,382.5h0.6v0.6h-0.6zM501.7,377.4h0.6v0.6h-0.6zM501.1,379.4h0.6v0.6h-0.6zM497.9,379.0h0.6v0.6h-0.6zM498.1,375.9h0.6v0.6h-0.6zM496.6,377.3h0.6v0.6h-0.6zM499.9,385.3h0.6v0.6h-0.6zM504.8,379.5h0.6v0.6h-0.6zM495.0,379.3h0.6v0.6h-0.6zM496.7,385.1h0.6v0.6h-0.6zM500.1,378.6h0.6v0.6h-0.6zM500.9,381.6h0.6v0.6h-0.6zM495.2,379.0h0.6v0.6h-0.6zM498.3,380.3h0.6v0.6h-0.6zM499.1,379.5h0.6v0.6h-0.6zM499.2,378.9h0.6v0.6h-0.6zM496.8,383.9h0.6v0.6h-0.6zM499.6,381.4h0.6v0.6h-0.6zM495.3,379.9h0.6v0.6h-0.6zM500.6,377.2h0.6v0.6h-0.6zM501.2,379.4h0.6v0.6h-0.6zM499.7,380.0h0.6v0.6h-0.6zM499.3,383.2h0.6v0.6h-0.6zM497.9,384.1h0.6v0.6h-0.6zM497.1,378.1h0.6v0.6h-0.6zM500.4,377.7h0.6v0.6h-0.6zM498.0,382.5h0.6v0.6h-0.6zM501.5,376.0h0.6v0.6h-0.6zM499.9,384.8h0.6v0.6h-0.6zM501.4,379.7h0.6v0.6h-0.6zM497.5,379.6h0.6v0.6h-0.6zM496.3,379.7h0.6v0.6h-0.6zM498.4,380.0h0.6v0.6h-0.6zM501.4,379.7h0.6v0.6h-0.6zM495.6,382.8h0.6v0.6h-0.6zM496.4,379.2h0.6v0.6h-0.6zM498.5,379.5h0.6v0.6h-0.6zM496.6,379.7h0.6v0.6h-0.6zM503.6,378.8h0.6v0.6h-0.6zM498.5,383.0h0.6v0.6h-0.6zM500.4,382.1h0.6v0.6h-0.6zM500.7,375.6h0.6v0.6h-0.6zM496.9,380.6h0.6v0.6h-0.6zM499.9,383.4h0.6v0.6h-0.6zM499.8,379.7h0.6v0.6h-0.6zM498.9,379.8h0.6v0.6h-0.6zM499.3,381.9h0.6v0.6h-0.6zM498.1,378.3h0.6v0.6h-0.6zM496.9,382.9h0.6v0.6h-0.6zM501.6,382.7h0.6v0.6h-0.6zM500.7,382.3h0.6v0.6h-0.6zM498.8,381.9h0.6v0.6h-0.6zM496.5,379.8h0.6v0.6h-0.6zM497.2,382.0h0.6v0.6h-0.6zM497.5,380.0h0.6v0.6h-0.6zM499.7,383.6h0.6v0.6h-0.6zM497.1,378.0h0.6v0.6h-0.6zM500.6,377.6h0.6v0.6h-0.6zM499.8,378.9h0.6v0.6h-0.6zM498.6,375.9h0.6v0.6h-0.6zM500.4,379.1h0.6v0.6h-0.6zM496.8,385.3h0.6v0.6h-0.6zM500.4,388.7h0.6v0.6h-0.6zM499.7,379.5h0.6v0.6h-0.6zM499.0,384.2h0.6v0.6h-0.6zM498.7,381.4h0.6v0.6h-0.6zM499.9,378.1h0.6v0.6h-0.6zM499.1,379.1h0.6v0.6h-0.6zM496.1,382.4h0.6v0.6h-0.6zM500.3,380.5h0.6v0.6h-0.6z" fill="#222" fill-opacity="0.55"/>
<path d="M495.2,372.7h0.55v0.55h-0.55zM500.2,379.9h0.55v0.55h-0.55zM492.4,380.1h0.55v0.55h-0.55zM493.0,380.2h0.55v0.55h-0.55zM499.0,381.6h0.55v0.55h-0.55zM499.3,380.9h0.55v0.55h-0.55zM494.4,378.8h0.55v0.55h-0.55zM496.7,379.4h0.55v0.55h-0.55zM499.5,382.7h0.55v0.55h-0.55zM504.4,370.5h0.55v0.55h-0.55zM499.9,379.5h0.55v0.55h-0.55zM506.7,383.8h0.55v0.55h-0.55zM492.5,381.8h0.55v0.55h-0.55zM496.6,384.1h0.55v0.55h-0.55zM494.7,379.9h0.55v0.55h-0.55zM498.0,379.9h0.55v0.55h-0.55zM496.4,373.3h0.55v0.55h-0.55zM500.2,384.1h0.55v0.55h-0.55zM498.3,376.4h0.55v0.55h-0.55zM499.2,382.4h0.55v0.55h-0.55zM497.9,380.2h0.55v0.55h-0.55zM503.6,376.0h0.55v0.55h-0.55zM496.5,373.1h0.55v0.55h-0.55zM496.0,377.5h0.55v0.55h-0.55zM495.0,377.7h0.55v0.55h-0.55zM505.0,379.6h0.55v0.55h-0.55zM498.1,388.7h0.55v0.55h-0.55zM498.3,373.7h0.55v0.55h-0.55zM500.0,376.7h0.55v0.55h-0.55zM504.4,375.6h0.55v0.55h-0.55zM496.4,374.2h0.55v0.55h-0.55zM498.9,376.4h0.55v0.55h-0.55zM498.3,378.9h0.55v0.55h-0.55zM496.3,383.9h0.55v0.55h-0.55zM501.9,380.5h0.55v0.55h-0.55zM495.3,376.2h0.55v0.55h-0.55zM499.5,389.4h0.55v0.55h-0.55zM496.9,377.3h0.55v0.55h-0.55zM496.0,376.1h0.55v0.55h-0.55zM495.0,379.5h0.55v0.55h-0.55zM503.7,380.3h0.55v0.55h-0.55zM496.7,374.2h0.55v0.55h-0.55zM499.3,380.2h0.55v0.55h-0.55zM494.1,376.2h0.55v0.55h-0.55zM498.3,384.1h0.55v0.55h-0.55zM500.8,381.1h0.55v0.55h-0.55zM497.3,381.5h0.55v0.55h-0.55zM498.5,388.6h0.55v0.55h-0.55zM494.4,378.9h0.55v0.55h-0.55zM503.1,379.3h0.55v0.55h-0.55zM503.6,380.1h0.55v0.55h-0.55zM499.0,378.9h0.55v0.55h-0.55zM493.5,376.6h0.55v0.55h-0.55zM506.5,382.8h0.55v0.55h-0.55zM500.7,383.9h0.55v0.55h-0.55zM500.5,384.2h0.55v0.55h-0.55zM497.5,379.5h0.55v0.55h-0.55zM502.0,379.0h0.55v0.55h-0.55zM493.7,379.4h0.55v0.55h-0.55zM496.5,382.6h0.55v0.55h-0.55zM495.9,376.3h0.55v0.55h-0.55zM497.3,386.2h0.55v0.55h-0.55zM498.3,380.9h0.55v0.55h-0.55zM498.5,381.4h0.55v0.55h-0.55zM501.8,385.6h0.55v0.55h-0.55zM492.6,385.5h0.55v0.55h-0.55zM498.5,379.1h0.55v0.55h-0.55zM507.1,379.7h0.55v0.55h-0.55zM505.5,384.0h0.55v0.55h-0.55zM494.8,382.2h0.55v0.55h-0.55z" fill="#444" fill-opacity="0.4"/>
<rect x="490.4" y="366.6" width="18.1" height="22" fill="none" stroke="#000" stroke-width="1.2"/>
<text transform="translate(516.4,409.3) scale(0.74,1)" font-size="12.3" font-weight="normal" text-anchor="end" >85%</text>
<rect x="455.6" y="437.6" width="62.89999999999998" height="54.599999999999966" fill="none" stroke="#000" stroke-width="1.4"/>
<line x1="456.1" y1="440.6" x2="457.40000000000003" y2="440.6" stroke="#222" stroke-width="0.8"/>
<line x1="456.1" y1="446.8" x2="457.40000000000003" y2="446.8" stroke="#222" stroke-width="0.8"/>
<line x1="456.1" y1="453.0" x2="457.40000000000003" y2="453.0" stroke="#222" stroke-width="0.8"/>
<line x1="456.1" y1="459.2" x2="457.40000000000003" y2="459.2" stroke="#222" stroke-width="0.8"/>
<line x1="456.1" y1="465.4" x2="457.40000000000003" y2="465.4" stroke="#222" stroke-width="0.8"/>
<line x1="456.1" y1="471.6" x2="457.40000000000003" y2="471.6" stroke="#222" stroke-width="0.8"/>
<line x1="456.1" y1="477.8" x2="457.40000000000003" y2="477.8" stroke="#222" stroke-width="0.8"/>
<line x1="456.1" y1="484.0" x2="457.40000000000003" y2="484.0" stroke="#222" stroke-width="0.8"/>
<line x1="456.1" y1="490.2" x2="457.40000000000003" y2="490.2" stroke="#222" stroke-width="0.8"/>
<line x1="458.6" y1="490.4" x2="458.6" y2="491.7" stroke="#222" stroke-width="0.8"/>
<line x1="465.03333333333336" y1="490.4" x2="465.03333333333336" y2="491.7" stroke="#222" stroke-width="0.8"/>
<line x1="471.4666666666667" y1="490.4" x2="471.4666666666667" y2="491.7" stroke="#222" stroke-width="0.8"/>
<line x1="477.90000000000003" y1="490.4" x2="477.90000000000003" y2="491.7" stroke="#222" stroke-width="0.8"/>
<line x1="484.33333333333337" y1="490.4" x2="484.33333333333337" y2="491.7" stroke="#222" stroke-width="0.8"/>
<line x1="490.76666666666665" y1="490.4" x2="490.76666666666665" y2="491.7" stroke="#222" stroke-width="0.8"/>
<line x1="497.2" y1="490.4" x2="497.2" y2="491.7" stroke="#222" stroke-width="0.8"/>
<line x1="503.6333333333333" y1="490.4" x2="503.6333333333333" y2="491.7" stroke="#222" stroke-width="0.8"/>
<line x1="510.06666666666666" y1="490.4" x2="510.06666666666666" y2="491.7" stroke="#222" stroke-width="0.8"/>
<line x1="516.5" y1="490.4" x2="516.5" y2="491.7" stroke="#222" stroke-width="0.8"/>
<ellipse cx="481" cy="460.5" rx="10" ry="6" fill="url(#g3)"/>
<path d="M485.9,460.1h0.6v0.6h-0.6zM473.7,459.5h0.6v0.6h-0.6zM482.2,457.4h0.6v0.6h-0.6zM490.3,459.8h0.6v0.6h-0.6zM481.4,459.7h0.6v0.6h-0.6zM479.9,458.3h0.6v0.6h-0.6zM483.4,461.4h0.6v0.6h-0.6zM481.0,460.2h0.6v0.6h-0.6zM477.4,462.0h0.6v0.6h-0.6zM480.0,461.1h0.6v0.6h-0.6zM479.4,459.1h0.6v0.6h-0.6zM483.9,457.1h0.6v0.6h-0.6zM492.9,460.4h0.6v0.6h-0.6zM482.7,458.4h0.6v0.6h-0.6zM489.4,464.4h0.6v0.6h-0.6zM484.2,456.7h0.6v0.6h-0.6zM481.0,462.2h0.6v0.6h-0.6zM481.0,457.2h0.6v0.6h-0.6zM478.2,458.3h0.6v0.6h-0.6zM483.1,458.7h0.6v0.6h-0.6zM483.1,468.3h0.6v0.6h-0.6zM490.1,457.6h0.6v0.6h-0.6zM484.4,460.7h0.6v0.6h-0.6zM482.4,463.4h0.6v0.6h-0.6zM481.7,459.6h0.6v0.6h-0.6zM481.5,460.2h0.6v0.6h-0.6zM488.1,462.7h0.6v0.6h-0.6zM477.6,459.3h0.6v0.6h-0.6zM479.8,462.8h0.6v0.6h-0.6zM483.9,463.0h0.6v0.6h-0.6zM482.8,455.2h0.6v0.6h-0.6zM484.8,461.1h0.6v0.6h-0.6zM485.0,456.9h0.6v0.6h-0.6zM483.3,458.6h0.6v0.6h-0.6zM480.3,461.5h0.6v0.6h-0.6zM484.4,458.0h0.6v0.6h-0.6zM476.2,453.6h0.6v0.6h-0.6zM480.7,463.6h0.6v0.6h-0.6zM482.8,454.2h0.6v0.6h-0.6zM479.5,461.7h0.6v0.6h-0.6zM489.7,463.8h0.6v0.6h-0.6zM484.5,461.1h0.6v0.6h-0.6zM478.8,459.2h0.6v0.6h-0.6zM481.7,458.3h0.6v0.6h-0.6zM483.3,459.4h0.6v0.6h-0.6zM484.3,464.5h0.6v0.6h-0.6zM486.0,461.7h0.6v0.6h-0.6zM482.0,456.2h0.6v0.6h-0.6zM482.5,462.0h0.6v0.6h-0.6zM479.0,464.0h0.6v0.6h-0.6zM481.7,461.5h0.6v0.6h-0.6zM481.7,457.0h0.6v0.6h-0.6zM491.3,457.2h0.6v0.6h-0.6zM486.7,458.9h0.6v0.6h-0.6zM484.1,458.2h0.6v0.6h-0.6zM481.3,463.1h0.6v0.6h-0.6zM490.8,458.1h0.6v0.6h-0.6zM483.0,463.2h0.6v0.6h-0.6zM480.5,462.5h0.6v0.6h-0.6zM479.9,462.2h0.6v0.6h-0.6zM484.7,463.9h0.6v0.6h-0.6zM484.5,457.2h0.6v0.6h-0.6zM485.7,457.4h0.6v0.6h-0.6zM486.0,464.7h0.6v0.6h-0.6zM485.4,459.0h0.6v0.6h-0.6zM487.8,461.0h0.6v0.6h-0.6zM478.0,459.5h0.6v0.6h-0.6zM488.7,459.6h0.6v0.6h-0.6zM483.5,459.5h0.6v0.6h-0.6zM476.3,459.1h0.6v0.6h-0.6z" fill="#777" fill-opacity="0.4"/>
<path d="M475.4,461.6h0.6v0.6h-0.6zM473.3,454.6h0.6v0.6h-0.6zM478.9,463.2h0.6v0.6h-0.6zM478.1,464.9h0.6v0.6h-0.6zM472.2,459.2h0.6v0.6h-0.6zM475.3,466.0h0.6v0.6h-0.6zM467.3,460.3h0.6v0.6h-0.6zM471.1,462.7h0.6v0.6h-0.6zM479.9,460.1h0.6v0.6h-0.6zM469.0,461.1h0.6v0.6h-0.6zM472.9,456.4h0.6v0.6h-0.6zM477.5,459.4h0.6v0.6h-0.6zM476.7,457.1h0.6v0.6h-0.6zM478.4,456.7h0.6v0.6h-0.6zM478.2,455.6h0.6v0.6h-0.6zM479.5,459.9h0.6v0.6h-0.6zM467.8,460.3h0.6v0.6h-0.6zM475.3,458.0h0.6v0.6h-0.6zM472.0,461.8h0.6v0.6h-0.6zM473.3,451.8h0.6v0.6h-0.6z" fill="#999" fill-opacity="0.3"/>
<ellipse cx="499" cy="460" rx="8.6" ry="10.6" fill="url(#g2)"/>
<path d="M497.5,462.0h0.6v0.6h-0.6zM500.1,464.6h0.6v0.6h-0.6zM496.5,471.7h0.6v0.6h-0.6zM501.9,461.4h0.6v0.6h-0.6zM502.9,464.4h0.6v0.6h-0.6zM499.4,457.1h0.6v0.6h-0.6zM502.7,461.9h0.6v0.6h-0.6zM492.2,454.9h0.6v0.6h-0.6zM500.7,460.5h0.6v0.6h-0.6zM500.0,463.0h0.6v0.6h-0.6zM499.5,467.3h0.6v0.6h-0.6zM496.9,458.2h0.6v0.6h-0.6zM500.2,463.4h0.6v0.6h-0.6zM501.8,466.8h0.6v0.6h-0.6zM497.3,465.4h0.6v0.6h-0.6zM500.7,455.2h0.6v0.6h-0.6zM498.5,469.6h0.6v0.6h-0.6zM501.8,457.8h0.6v0.6h-0.6zM490.4,456.6h0.6v0.6h-0.6zM496.5,460.4h0.6v0.6h-0.6zM507.3,463.4h0.6v0.6h-0.6zM500.1,455.7h0.6v0.6h-0.6zM494.7,459.0h0.6v0.6h-0.6zM497.3,473.8h0.6v0.6h-0.6zM497.5,457.2h0.6v0.6h-0.6zM503.1,460.4h0.6v0.6h-0.6zM494.6,465.9h0.6v0.6h-0.6zM497.9,453.9h0.6v0.6h-0.6zM500.2,462.2h0.6v0.6h-0.6zM497.8,463.2h0.6v0.6h-0.6zM502.0,455.9h0.6v0.6h-0.6zM491.6,449.0h0.6v0.6h-0.6zM498.5,465.7h0.6v0.6h-0.6zM502.6,466.4h0.6v0.6h-0.6zM505.7,460.1h0.6v0.6h-0.6zM502.8,453.0h0.6v0.6h-0.6zM501.5,461.8h0.6v0.6h-0.6zM498.7,458.0h0.6v0.6h-0.6zM495.0,460.6h0.6v0.6h-0.6zM503.6,458.3h0.6v0.6h-0.6zM500.9,456.9h0.6v0.6h-0.6zM499.9,455.4h0.6v0.6h-0.6zM500.4,459.0h0.6v0.6h-0.6zM500.1,457.2h0.6v0.6h-0.6zM494.8,458.5h0.6v0.6h-0.6zM502.7,467.3h0.6v0.6h-0.6zM497.8,463.7h0.6v0.6h-0.6zM501.7,461.8h0.6v0.6h-0.6zM493.4,461.5h0.6v0.6h-0.6zM495.5,465.4h0.6v0.6h-0.6zM501.8,462.8h0.6v0.6h-0.6zM489.9,462.9h0.6v0.6h-0.6zM501.5,454.1h0.6v0.6h-0.6zM502.5,460.3h0.6v0.6h-0.6zM498.3,456.7h0.6v0.6h-0.6zM495.3,458.0h0.6v0.6h-0.6zM510.1,460.9h0.6v0.6h-0.6zM499.7,457.0h0.6v0.6h-0.6zM496.8,457.5h0.6v0.6h-0.6zM495.8,464.0h0.6v0.6h-0.6zM498.0,464.0h0.6v0.6h-0.6zM494.8,464.3h0.6v0.6h-0.6zM498.9,463.1h0.6v0.6h-0.6zM498.6,455.9h0.6v0.6h-0.6zM503.4,458.0h0.6v0.6h-0.6zM498.5,455.9h0.6v0.6h-0.6zM499.7,458.2h0.6v0.6h-0.6zM500.0,461.6h0.6v0.6h-0.6zM496.5,453.5h0.6v0.6h-0.6zM500.6,464.2h0.6v0.6h-0.6zM501.5,454.7h0.6v0.6h-0.6zM501.2,461.8h0.6v0.6h-0.6zM500.0,462.0h0.6v0.6h-0.6zM497.8,461.0h0.6v0.6h-0.6zM502.3,457.7h0.6v0.6h-0.6zM493.8,459.5h0.6v0.6h-0.6zM499.7,451.5h0.6v0.6h-0.6zM496.6,462.7h0.6v0.6h-0.6zM498.5,460.4h0.6v0.6h-0.6zM494.5,464.2h0.6v0.6h-0.6zM505.3,459.1h0.6v0.6h-0.6zM496.4,454.7h0.6v0.6h-0.6zM502.2,460.5h0.6v0.6h-0.6zM496.1,465.6h0.6v0.6h-0.6zM501.8,462.8h0.6v0.6h-0.6zM492.7,459.5h0.6v0.6h-0.6zM501.3,454.4h0.6v0.6h-0.6zM502.3,466.6h0.6v0.6h-0.6zM502.7,456.7h0.6v0.6h-0.6zM496.5,464.3h0.6v0.6h-0.6zM502.6,465.7h0.6v0.6h-0.6zM503.3,459.5h0.6v0.6h-0.6zM497.5,451.5h0.6v0.6h-0.6zM501.8,470.5h0.6v0.6h-0.6zM497.3,457.8h0.6v0.6h-0.6zM501.3,461.7h0.6v0.6h-0.6zM494.1,456.7h0.6v0.6h-0.6zM495.0,469.3h0.6v0.6h-0.6zM496.4,463.9h0.6v0.6h-0.6zM505.9,468.7h0.6v0.6h-0.6zM504.1,467.5h0.6v0.6h-0.6zM494.6,458.4h0.6v0.6h-0.6zM496.4,458.7h0.6v0.6h-0.6zM508.4,452.3h0.6v0.6h-0.6zM501.0,454.3h0.6v0.6h-0.6zM503.8,466.0h0.6v0.6h-0.6zM497.2,469.5h0.6v0.6h-0.6zM499.3,466.0h0.6v0.6h-0.6zM500.1,457.4h0.6v0.6h-0.6zM497.6,459.5h0.6v0.6h-0.6zM501.2,460.6h0.6v0.6h-0.6zM507.5,459.1h0.6v0.6h-0.6zM497.3,456.7h0.6v0.6h-0.6zM496.2,453.4h0.6v0.6h-0.6zM495.5,464.2h0.6v0.6h-0.6zM499.2,459.2h0.6v0.6h-0.6zM500.3,464.9h0.6v0.6h-0.6zM501.2,463.6h0.6v0.6h-0.6zM497.0,458.8h0.6v0.6h-0.6zM496.2,459.6h0.6v0.6h-0.6zM496.1,458.3h0.6v0.6h-0.6zM498.4,459.0h0.6v0.6h-0.6zM498.0,457.7h0.6v0.6h-0.6zM503.7,458.4h0.6v0.6h-0.6zM495.4,460.9h0.6v0.6h-0.6zM495.1,455.1h0.6v0.6h-0.6zM499.3,452.3h0.6v0.6h-0.6zM487.4,461.3h0.6v0.6h-0.6zM502.7,452.3h0.6v0.6h-0.6zM495.8,462.7h0.6v0.6h-0.6zM491.8,456.0h0.6v0.6h-0.6zM494.7,459.1h0.6v0.6h-0.6zM491.9,464.1h0.6v0.6h-0.6zM498.5,461.4h0.6v0.6h-0.6zM497.8,450.2h0.6v0.6h-0.6zM498.5,453.8h0.6v0.6h-0.6zM499.0,456.1h0.6v0.6h-0.6zM497.9,459.0h0.6v0.6h-0.6zM501.8,463.5h0.6v0.6h-0.6zM495.4,459.9h0.6v0.6h-0.6zM504.3,462.3h0.6v0.6h-0.6zM496.4,459.4h0.6v0.6h-0.6zM497.7,464.3h0.6v0.6h-0.6zM499.1,461.7h0.6v0.6h-0.6zM507.0,453.7h0.6v0.6h-0.6zM495.3,452.0h0.6v0.6h-0.6zM493.3,463.9h0.6v0.6h-0.6zM500.1,467.5h0.6v0.6h-0.6zM491.9,455.9h0.6v0.6h-0.6zM504.2,464.7h0.6v0.6h-0.6zM502.2,464.0h0.6v0.6h-0.6zM499.1,460.0h0.6v0.6h-0.6zM499.1,463.9h0.6v0.6h-0.6zM498.4,461.5h0.6v0.6h-0.6zM504.2,454.8h0.6v0.6h-0.6zM496.3,462.6h0.6v0.6h-0.6zM498.1,459.3h0.6v0.6h-0.6zM506.6,461.9h0.6v0.6h-0.6zM497.5,465.1h0.6v0.6h-0.6zM508.1,454.9h0.6v0.6h-0.6zM496.6,460.5h0.6v0.6h-0.6zM496.7,470.0h0.6v0.6h-0.6zM500.9,458.2h0.6v0.6h-0.6zM500.8,456.3h0.6v0.6h-0.6zM496.8,460.5h0.6v0.6h-0.6zM507.6,449.6h0.6v0.6h-0.6zM500.5,466.2h0.6v0.6h-0.6zM501.7,468.8h0.6v0.6h-0.6zM500.6,460.7h0.6v0.6h-0.6zM498.5,456.1h0.6v0.6h-0.6zM504.9,454.6h0.6v0.6h-0.6zM498.6,457.6h0.6v0.6h-0.6zM496.2,449.8h0.6v0.6h-0.6zM497.6,460.6h0.6v0.6h-0.6zM499.5,463.9h0.6v0.6h-0.6zM498.4,457.1h0.6v0.6h-0.6zM500.1,463.1h0.6v0.6h-0.6zM495.7,453.0h0.6v0.6h-0.6zM495.3,464.9h0.6v0.6h-0.6zM502.6,455.9h0.6v0.6h-0.6zM499.4,463.9h0.6v0.6h-0.6zM503.8,457.0h0.6v0.6h-0.6zM498.1,466.5h0.6v0.6h-0.6zM507.7,467.0h0.6v0.6h-0.6zM494.9,462.1h0.6v0.6h-0.6zM497.9,459.7h0.6v0.6h-0.6zM496.6,457.8h0.6v0.6h-0.6zM499.0,468.3h0.6v0.6h-0.6zM501.5,462.0h0.6v0.6h-0.6zM499.1,456.5h0.6v0.6h-0.6zM498.2,465.7h0.6v0.6h-0.6zM502.0,469.0h0.6v0.6h-0.6zM499.9,459.9h0.6v0.6h-0.6zM493.2,461.8h0.6v0.6h-0.6zM492.8,467.0h0.6v0.6h-0.6zM496.7,460.0h0.6v0.6h-0.6zM494.1,457.7h0.6v0.6h-0.6zM495.6,465.2h0.6v0.6h-0.6zM499.9,454.6h0.6v0.6h-0.6zM492.0,459.7h0.6v0.6h-0.6zM497.2,454.9h0.6v0.6h-0.6zM501.1,459.1h0.6v0.6h-0.6zM499.4,457.3h0.6v0.6h-0.6zM496.9,457.9h0.6v0.6h-0.6zM493.2,462.9h0.6v0.6h-0.6zM500.5,452.1h0.6v0.6h-0.6zM499.4,465.3h0.6v0.6h-0.6zM499.9,466.0h0.6v0.6h-0.6zM498.0,460.0h0.6v0.6h-0.6zM494.3,455.8h0.6v0.6h-0.6zM492.4,455.9h0.6v0.6h-0.6zM499.9,462.4h0.6v0.6h-0.6zM503.2,460.6h0.6v0.6h-0.6zM495.4,462.0h0.6v0.6h-0.6zM498.5,468.2h0.6v0.6h-0.6zM506.1,464.4h0.6v0.6h-0.6zM494.9,457.6h0.6v0.6h-0.6zM499.7,456.7h0.6v0.6h-0.6zM500.9,463.2h0.6v0.6h-0.6zM502.0,461.1h0.6v0.6h-0.6zM495.8,456.1h0.6v0.6h-0.6zM498.6,466.1h0.6v0.6h-0.6zM504.7,464.5h0.6v0.6h-0.6zM500.3,463.1h0.6v0.6h-0.6zM502.0,465.9h0.6v0.6h-0.6zM502.1,452.9h0.6v0.6h-0.6zM502.4,461.8h0.6v0.6h-0.6zM497.3,462.4h0.6v0.6h-0.6zM500.0,459.8h0.6v0.6h-0.6zM492.9,460.5h0.6v0.6h-0.6zM501.0,459.8h0.6v0.6h-0.6zM493.3,462.1h0.6v0.6h-0.6zM501.6,460.8h0.6v0.6h-0.6zM500.5,458.4h0.6v0.6h-0.6zM496.6,462.4h0.6v0.6h-0.6zM497.7,460.8h0.6v0.6h-0.6zM510.7,463.3h0.6v0.6h-0.6zM499.5,452.5h0.6v0.6h-0.6zM499.3,463.5h0.6v0.6h-0.6zM496.5,458.9h0.6v0.6h-0.6zM490.9,462.6h0.6v0.6h-0.6zM496.9,463.1h0.6v0.6h-0.6zM503.9,459.3h0.6v0.6h-0.6zM502.5,461.2h0.6v0.6h-0.6zM498.3,458.7h0.6v0.6h-0.6zM495.9,465.9h0.6v0.6h-0.6zM502.2,455.4h0.6v0.6h-0.6zM502.0,456.6h0.6v0.6h-0.6zM493.6,465.5h0.6v0.6h-0.6zM494.4,465.4h0.6v0.6h-0.6zM499.7,464.1h0.6v0.6h-0.6zM500.8,465.3h0.6v0.6h-0.6zM500.3,462.7h0.6v0.6h-0.6zM499.9,465.0h0.6v0.6h-0.6zM497.6,464.7h0.6v0.6h-0.6zM504.4,459.7h0.6v0.6h-0.6zM500.6,457.6h0.6v0.6h-0.6zM498.0,461.2h0.6v0.6h-0.6zM497.8,455.9h0.6v0.6h-0.6zM498.9,460.9h0.6v0.6h-0.6z" fill="#111" fill-opacity="0.55"/>
<rect x="489.7" y="445.1" width="22.4" height="30" fill="none" stroke="#000" stroke-width="1.25"/>
<text transform="translate(518,489.5) scale(0.74,1)" font-size="12.3" font-weight="normal" text-anchor="end" >95%</text>
<line x1="445.6" y1="359" x2="445.6" y2="412" stroke="#000" stroke-width="1.6"/>
<line x1="445.6" y1="438.5" x2="445.6" y2="492" stroke="#000" stroke-width="1.6"/>
<text transform="translate(449,425.6) rotate(-90)" font-size="10.7" font-weight="normal" text-anchor="middle">CD8</text>
<line x1="456.5" y1="503.8" x2="475.8" y2="503.8" stroke="#000" stroke-width="1.4"/>
<line x1="501.7" y1="503.8" x2="518" y2="503.8" stroke="#000" stroke-width="1.4"/>
<text transform="translate(489,508) scale(0.9,1)" font-size="11.8" font-weight="normal" text-anchor="middle" >1B11</text>
</g>
</svg>
</body></html>
